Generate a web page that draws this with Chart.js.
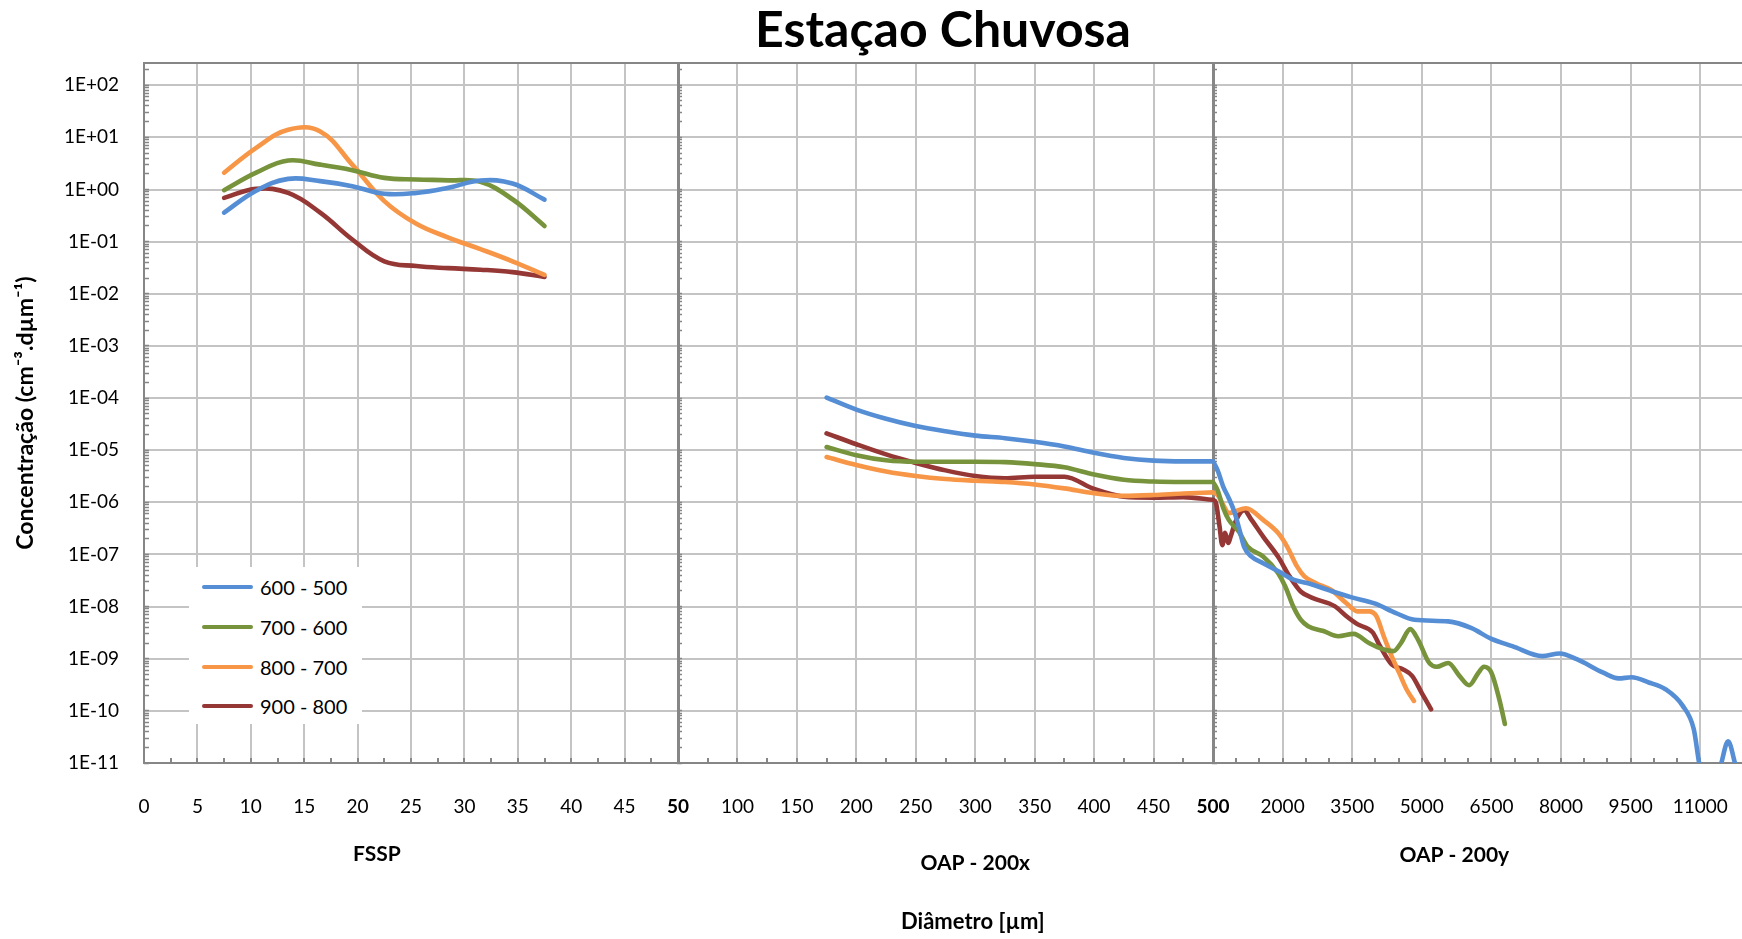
<!DOCTYPE html>
<html><head><meta charset="utf-8">
<script src="https://cdn.jsdelivr.net/npm/chart.js@4.4.1/dist/chart.umd.min.js"></script>
<style>
html,body{margin:0;padding:0;background:#fff;}
#wrap{position:relative;width:1742px;height:939px;}
#legend{position:absolute;left:189px;top:567px;width:173px;height:157px;background:#fff;font-family:Lato,sans-serif;font-size:20px;color:#000;}
.lg-line{position:absolute;left:13px;width:51px;height:4px;border-radius:2px;}
.lg-text{position:absolute;left:71px;line-height:24px;white-space:nowrap;}
</style></head>
<body><div id="wrap"><canvas id="c" width="1742" height="939"></canvas><div id="legend"></div></div>
<script>
// ---------------- DATA ----------------
const chartTitle = 'Estaçao Chuvosa';
const yTitle = 'Concentração (cm⁻³.dµm⁻¹)';
const xTitle = 'Diâmetro [µm]';
const panelNames = ['FSSP', 'OAP - 200x', 'OAP - 200y'];
const seriesNames = ['600 - 500', '700 - 600', '800 - 700', '900 - 800'];
const seriesColors = ['#558ed5', '#77933c', '#f79646', '#953735'];

// FSSP panel (diameter, µm)
const fsspDiam = [7.5, 10.5, 13.5, 16.5, 19.5, 22.5, 25.5, 28.5, 31.5, 34.5, 37.5];
const fssp_600_500 = [0.36, 0.95, 1.6, 1.45, 1.16, 0.83, 0.86, 1.08, 1.49, 1.3, 0.64];
const fssp_700_600 = [0.97, 2.1, 3.6, 3.0, 2.35, 1.67, 1.56, 1.5, 1.4, 0.65, 0.2];
const fssp_800_700 = [2.1, 6.3, 14, 13, 3.0, 0.6, 0.22, 0.12, 0.072, 0.042, 0.023];
const fssp_900_800 = [0.69, 1.03, 0.86, 0.36, 0.11, 0.042, 0.034, 0.031, 0.029, 0.026, 0.021];

// OAP-200x panel
const oapxDiam = [175, 200, 225, 250, 275, 300, 325, 350, 375, 400, 425, 450, 475, 500];
const oapx_600_500 = [1.02e-4, 6.0e-5, 4.0e-5, 2.9e-5, 2.3e-5, 1.9e-5, 1.7e-5, 1.45e-5, 1.18e-5, 8.9e-6, 7.1e-6, 6.3e-6, 6.1e-6, 6.1e-6];
const oapx_700_600 = [1.15e-5, 8.0e-6, 6.4e-6, 6.0e-6, 6.0e-6, 6.0e-6, 5.9e-6, 5.4e-6, 4.7e-6, 3.4e-6, 2.7e-6, 2.5e-6, 2.45e-6, 2.45e-6];
const oapx_800_700 = [7.4e-6, 5.2e-6, 3.9e-6, 3.2e-6, 2.8e-6, 2.6e-6, 2.45e-6, 2.2e-6, 1.85e-6, 1.5e-6, 1.33e-6, 1.38e-6, 1.48e-6, 1.55e-6];
const oapx_900_800 = [2.1e-5, 1.3e-5, 8.3e-6, 5.7e-6, 4.1e-6, 3.2e-6, 2.9e-6, 3.1e-6, 3.1e-6, 1.8e-6, 1.28e-6, 1.23e-6, 1.26e-6, 1.12e-6];

// OAP-200y panel
const oapy_600_500_d = [500, 600, 720, 840, 960, 1070, 1170, 1330, 1580, 1900, 2230, 2550, 3040, 3490, 3980, 4430, 4840, 5570, 6060, 6500, 6950, 7600, 7970, 8340, 8910, 9240, 9520, 9890, 10250, 10620, 10860, 11000, 11200, 11420, 11600, 11780, 11900];
const oapy_600_500_v = [6.1e-6, 4.1e-6, 2.0e-6, 1.2e-6, 6.6e-7, 3.0e-7, 1.4e-7, 9.1e-8, 6.8e-8, 4.8e-8, 3.3e-8, 2.8e-8, 2.0e-8, 1.5e-8, 1.15e-8, 7.6e-9, 5.6e-9, 5.2e-9, 3.9e-9, 2.4e-9, 1.74e-9, 1.12e-9, 1.26e-9, 9.8e-10, 5.4e-10, 4.2e-10, 4.4e-10, 3.5e-10, 2.6e-10, 1.26e-10, 4.5e-11, 8e-12, 5e-12, 8e-12, 2.6e-11, 8e-12, 5e-12];
const oapy_700_600_d = [500, 600, 720, 840, 1050, 1250, 1580, 1900, 2060, 2230, 2390, 2550, 2880, 3200, 3530, 3860, 4180, 4390, 4550, 4750, 4920, 5160, 5320, 5570, 5810, 6020, 6220, 6340, 6500, 6670, 6790];
const oapy_700_600_v = [2.45e-6, 1.7e-6, 7.8e-7, 4.6e-7, 2.8e-7, 1.4e-7, 9.1e-8, 4.4e-8, 2.4e-8, 1.0e-8, 5.6e-9, 4.2e-9, 3.4e-9, 2.7e-9, 3.0e-9, 2.0e-9, 1.5e-9, 1.4e-9, 2.0e-9, 3.7e-9, 2.3e-9, 8.3e-10, 7.0e-10, 8.3e-10, 4.7e-10, 3.1e-10, 5.4e-10, 7.0e-10, 5.4e-10, 1.66e-10, 5.6e-11];
const oapy_800_700_d = [500, 600, 720, 840, 960, 1210, 1580, 1900, 2100, 2310, 2470, 2720, 3040, 3370, 3610, 3860, 4020, 4180, 4350, 4510, 4670, 4830];
const oapy_800_700_v = [1.55e-6, 1.38e-6, 8.9e-7, 6.2e-7, 6.6e-7, 7.7e-7, 4.6e-7, 2.6e-7, 1.4e-7, 5.9e-8, 3.8e-8, 2.8e-8, 2.1e-8, 1.17e-8, 8.1e-9, 8.1e-9, 6.6e-9, 2.7e-9, 1.12e-9, 5.4e-10, 2.6e-10, 1.55e-10];
const oapy_900_800_d = [500, 560, 640, 700, 760, 830, 880, 1000, 1170, 1330, 1580, 1900, 2150, 2390, 2640, 3120, 3370, 3610, 3940, 4100, 4350, 4590, 4790, 5000, 5200];
const oapy_900_800_v = [1.12e-6, 1.0e-6, 3.5e-7, 1.5e-7, 2.6e-7, 1.66e-7, 2.2e-7, 4.6e-7, 7.1e-7, 4.6e-7, 2.2e-7, 9.1e-8, 3.8e-8, 1.95e-8, 1.47e-8, 1.02e-8, 6.6e-9, 4.6e-9, 3.2e-9, 1.74e-9, 7.8e-10, 6.3e-10, 4.7e-10, 2.2e-10, 1.07e-10];

// Axis ticks
const fsspTickLabels = [0, 5, 10, 15, 20, 25, 30, 35, 40, 45];
const oapxTickLabels = [50, 100, 150, 200, 250, 300, 350, 400, 450];
const oapyTickLabels = [500, 2000, 3500, 5000, 6500, 8000, 9500, 11000];
const yTickValues = [1e2, 1e1, 1e0, 1e-1, 1e-2, 1e-3, 1e-4, 1e-5, 1e-6, 1e-7, 1e-8, 1e-9, 1e-10, 1e-11];
const panelRanges = [[0, 50], [50, 500], [500, 11900]];
const minorSteps = [2.5, 25, 500];
const yMin = 1e-11, yMax = 267;

// ---------------- BUILD ----------------
const fsspSeries = [fssp_600_500, fssp_700_600, fssp_800_700, fssp_900_800];
const oapxSeries = [oapx_600_500, oapx_700_600, oapx_800_700, oapx_900_800];
const oapySeries = [[oapy_600_500_d, oapy_600_500_v], [oapy_700_600_d, oapy_700_600_v], [oapy_800_700_d, oapy_800_700_v], [oapy_900_800_d, oapy_900_800_v]];

const GRID = '#c4c4c4', AXIS = '#868686';
const datasets = [];
function addSet(i, xs, ys, xAxisID, smooth) {
  datasets.push({
    label: seriesNames[i],
    data: xs.map((x, k) => ({x: x, y: ys[k]})),
    xAxisID: xAxisID, yAxisID: 'y',
    borderColor: seriesColors[i], backgroundColor: seriesColors[i],
    borderWidth: 4.6, pointRadius: 0, pointHoverRadius: 0,
    cubicInterpolationMode: smooth, tension: 0.4, borderCapStyle: 'round', borderJoinStyle: 'round',
    fill: false
  });
}
for (let i = 0; i < 4; i++) {
  addSet(i, fsspDiam, fsspSeries[i], 'x1', 'default');
  addSet(i, oapxDiam, oapxSeries[i], 'x2', 'monotone');
  addSet(i, oapySeries[i][0], oapySeries[i][1], 'x3', 'monotone');
}

function makeXTicks(p) {
  const [a, b] = panelRanges[p];
  const out = [];
  for (let v = a; v < b - 1e-9; v += minorSteps[p]) out.push({value: v});
  return out;
}
const tickLists = [fsspTickLabels, oapxTickLabels, oapyTickLabels];
function xScale(p, weight) {
  const labels = tickLists[p];
  return {
    type: 'linear', position: 'bottom', stack: 'xs', stackWeight: weight,
    min: panelRanges[p][0], max: panelRanges[p][1],
    afterBuildTicks: (s) => { s.ticks = makeXTicks(p); },
    afterFit: (s) => { s.height = 176; s.paddingLeft = 0; s.paddingRight = 0; },
    border: {display: true, color: AXIS, width: 2},
    grid: {
      drawOnChartArea: true, drawTicks: true, tickLength: -5, tickWidth: 2, tickColor: AXIS,
      lineWidth: 2,
      color: (ctx) => {
        const v = ctx.tick ? ctx.tick.value : null;
        if (v === panelRanges[p][0]) return 'rgba(0,0,0,0)';
        return labels.includes(v) ? GRID : 'rgba(0,0,0,0)';
      }
    },
    ticks: {
      autoSkip: false, maxRotation: 0, minRotation: 0, padding: 37, color: '#000',
      font: (ctx) => ({family: 'Lato', size: 19, weight: (ctx.tick && (ctx.tick.value === 50 || ctx.tick.value === 500)) ? 'bold' : 'normal'}),
      callback: (v) => labels.includes(v) ? String(v) : ''
    }
  };
}
const minorY = [];
for (let e = -11; e <= 2; e++) for (let m = 1; m <= 9; m++) { const v = m * Math.pow(10, e); if (v >= yMin * 0.999 && v <= yMax) minorY.push(v); }
function minorAxis(pos, borderW) {
  return {
    type: 'logarithmic', position: pos, min: yMin, max: yMax, display: true,
    afterBuildTicks: (s) => { s.ticks = minorY.map(v => ({value: v})); },
    ticks: {display: false},
    grid: {drawOnChartArea: false, drawTicks: true, tickLength: -5, tickWidth: 1.5, tickColor: AXIS},
    border: {display: borderW > 0, color: AXIS, width: borderW || 1}
  };
}
function fmtE(v) {
  const e = Math.round(Math.log10(v));
  return '1E' + (e >= 0 ? '+' : '-') + String(Math.abs(e)).padStart(2, '0');
}

const panelLabelPlugin = {
  id: 'panelLabels',
  afterDraw(chart) {
    const ctx = chart.ctx;
    ctx.save();
    ctx.fillStyle = '#000';
    ctx.textAlign = 'center';
    ctx.textBaseline = 'middle';
    ctx.font = 'bold 21px Lato';
    ctx.fillText(panelNames[0], chart.scales.x1.getPixelForValue(21.8), 854);
    ctx.fillText(panelNames[1], chart.scales.x2.getPixelForValue(300), 863);
    ctx.fillText(panelNames[2], chart.scales.x3.getPixelForValue(5700), 855);
    ctx.font = 'bold 22px Lato';
    ctx.fillText(xTitle, chart.scales.x2.getPixelForValue(298), 922);
    ctx.restore();
  }
};

const chart = new Chart(document.getElementById('c'), {
  type: 'line',
  data: {datasets: datasets},
  plugins: [panelLabelPlugin],
  options: {
    responsive: false, animation: false, events: [],
    layout: {padding: 0},
    plugins: {
      legend: {display: false},
      tooltip: {enabled: false},
      title: {display: true, text: chartTitle, fullSize: false, color: '#000',
        font: {family: 'Lato', size: 50, weight: 'bold', lineHeight: 1.1}, padding: {top: 3, bottom: 5}}
    },
    scales: {
      x1: xScale(0, 534),
      x2: xScale(1, 535),
      x3: xScale(2, 529),
      y: {
        type: 'logarithmic', position: 'left', min: yMin, max: yMax,
        afterBuildTicks: (s) => { s.ticks = yTickValues.concat([yMax]).map(v => ({value: v})); },
        afterFit: (s) => { s.width = 144; s.paddingTop = 0; s.paddingBottom = 0; },
        border: {display: true, color: AXIS, width: 2},
        grid: {drawTicks: false, lineWidth: 2, color: (ctx) => (ctx.tick && ctx.tick.value === yMax) ? AXIS : GRID},
        ticks: {padding: 25, color: '#000', font: {family: 'Lato', size: 19},
          callback: (v) => v === yMax ? '' : fmtE(v)},
        title: {display: true, text: yTitle, color: '#000', font: {family: 'Lato', size: 23, weight: 'bold'}, padding: {top: 12, bottom: 0}}
      },
      ym0: minorAxis({x1: 0}, 0),
      ym1: minorAxis({x2: 50}, 3),
      ym2: minorAxis({x3: 500}, 3)
    }
  }
});

// HTML legend built from the series arrays
const lg = document.getElementById('legend');
const rowCenters = [20, 60, 100, 139];
seriesNames.forEach((name, i) => {
  const line = document.createElement('div');
  line.className = 'lg-line';
  line.style.background = seriesColors[i];
  line.style.top = (rowCenters[i] - 2) + 'px';
  lg.appendChild(line);
  const t = document.createElement('div');
  t.className = 'lg-text';
  t.textContent = name;
  t.style.top = (rowCenters[i] - 12) + 'px';
  lg.appendChild(t);
});
</script>
</body></html>
